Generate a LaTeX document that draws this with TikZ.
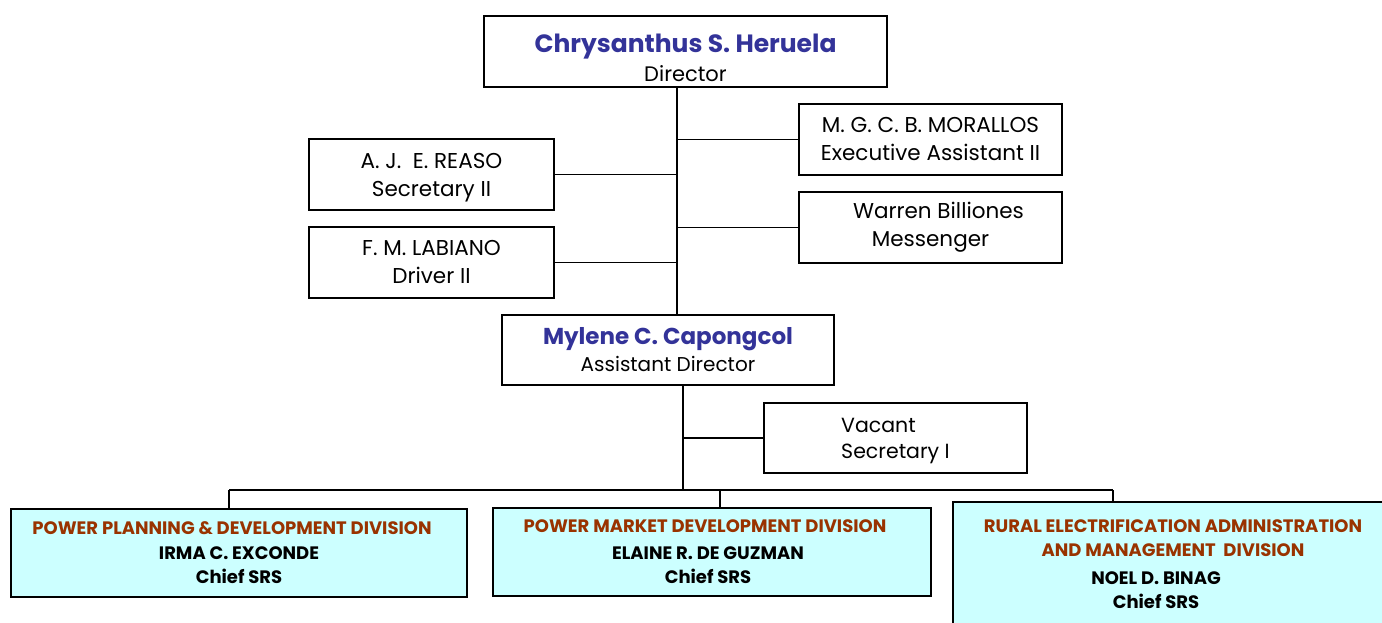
\documentclass[tikz,border=0pt]{standalone}
\usepackage{fontspec}
\setmainfont{Poppins}
\usepackage{xcolor}
\usetikzlibrary{positioning,backgrounds}
\pgfdeclarelayer{edgelayer}
\pgfdeclarelayer{nodelayer}
\pgfsetlayers{background,edgelayer,nodelayer,main}
\definecolor{nameblue}{RGB}{51,51,153}
\definecolor{divbrown}{RGB}{153,51,0}
\definecolor{divfill}{RGB}{204,255,255}
\tikzstyle{none}=[inner sep=0mm]
\tikzstyle{box}=[draw=black,line width=1.2pt,fill=white,shape=rectangle,inner sep=0pt,align=center]
\tikzstyle{head}=[box,font=\fontsize{21}{29}\selectfont]
\tikzstyle{staff}=[box,minimum width=245pt,minimum height=71pt,font=\fontsize{21.5}{28}\selectfont]
\tikzstyle{division}=[box,fill=divfill,font=\bfseries\fontsize{18}{24.5}\selectfont]
\tikzstyle{link}=[line width=1.2pt]
\newcommand{\bossname}[2]{{\color{nameblue}\fontsize{#1}{29}\selectfont\bfseries #2}}
\newcommand{\divtitle}[1]{{\color{divbrown}#1}}

\begin{document}
\begin{tikzpicture}[x=1pt,y=-1pt]
	\useasboundingbox (0,0) rectangle (1382,623);
	\begin{pgfonlayer}{nodelayer}
		\node [style=head, minimum width=403pt, minimum height=71pt] (boss) at (685.5, 51.5) {\rule{0pt}{31pt}\bossname{25}{Chrysanthus S. Heruela}\\Director};
		\node [style=staff, minimum width=263pt] (morallos) at (930.5, 139.5) {M. G. C. B. MORALLOS\\Executive Assistant II};
		\node [style=staff, minimum width=263pt] (warren) at (930.5, 227.5) {\hspace*{16pt}Warren Billiones\\Messenger};
		\node [style=staff] (reaso) at (431.5, 174.5) {\rule{0pt}{22pt}A. J.\ \ E. REASO\\Secretary II};
		\node [style=staff] (labiano) at (431.5, 262.5) {F. M. LABIANO\\Driver II};
		\node [style=head, minimum width=332pt, minimum height=70pt, font=\fontsize{20}{29}\selectfont] (asst) at (668, 350) {\bossname{23}{Mylene C. Capongcol}\\[-2pt]Assistant Director};
		\node [style=head, minimum width=263pt, minimum height=70pt, align=left, font=\fontsize{20.5}{26}\selectfont] (vacant) at (895.5, 438) {\rule{0pt}{21pt}Vacant\\Secretary I};
		\node [style=division, minimum width=456pt, minimum height=88pt] (div1) at (239, 553) {\divtitle{POWER PLANNING \& DEVELOPMENT DIVISION}\makebox[14pt]{}\\IRMA C. EXCONDE\\Chief SRS};
		\node [style=division, minimum width=438pt, minimum height=88pt] (div2) at (712, 552) {\divtitle{POWER MARKET DEVELOPMENT DIVISION}\makebox[14pt]{}\\[2pt]ELAINE R. DE GUZMAN\makebox[8pt]{}\\Chief SRS\makebox[8pt]{}};
		\node [style=division, minimum width=440pt, minimum height=124pt] (div3) at (1173, 564) {\divtitle{RURAL ELECTRIFICATION ADMINISTRATION}\\\divtitle{AND MANAGEMENT\ \ DIVISION}\\[3pt]NOEL D. BINAG\makebox[34pt]{}\\Chief SRS\makebox[34pt]{}};
		\coordinate (trunk) at (677, 0);
		\coordinate (stem) at (683, 0);
		\coordinate (d1) at (229, 490);
		\coordinate (d2) at (720, 490);
		\coordinate (d3) at (1113, 490);
	\end{pgfonlayer}
	\begin{pgfonlayer}{edgelayer}
		\draw [style=link] (boss.south -| trunk) to (asst.north -| trunk);
		\draw [style=link] (morallos.west) to (morallos.west -| trunk);
		\draw [style=link] (warren.west) to (warren.west -| trunk);
		\draw [style=link] (reaso.east) to (reaso.east -| trunk);
		\draw [style=link] (labiano.east) to (labiano.east -| trunk);
		\draw [style=link] (asst.south -| stem) to (d1 -| stem);
		\draw [style=link] (vacant.west) to (vacant.west -| stem);
		\draw [style=link] (d1) to (d3);
		\draw [style=link] (d1) to (d1 |- div1.north);
		\draw [style=link] (d2) to (d2 |- div2.north);
		\draw [style=link] (d3) to (d3 |- div3.north);
	\end{pgfonlayer}
\end{tikzpicture}
\end{document}
